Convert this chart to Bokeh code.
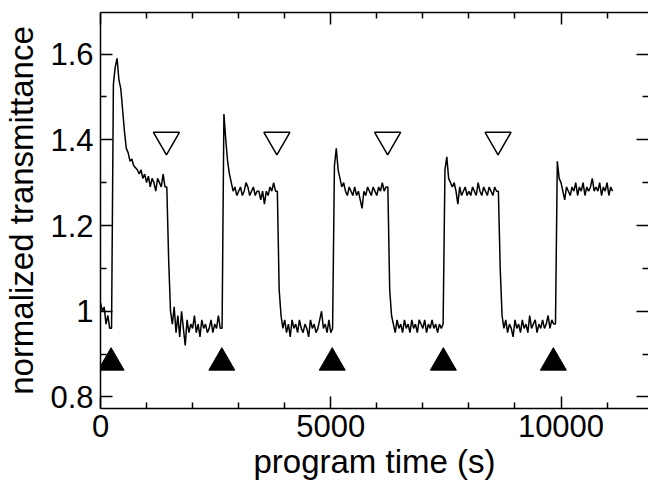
from bokeh.plotting import figure
from bokeh.models import Range1d, LinearAxis, FixedTicker, CustomJSTickFormatter, ColumnDataSource
from bokeh.embed import file_html
from bokeh.resources import INLINE

# ---- data ----
sample_step_s = 40  # one reading every 40 s of program time
transmittance = [
    1.02, 1.00, 1.01, 0.97, 0.99, 0.96, 0.96, 1.53, 1.57, 1.59,
    1.54, 1.52, 1.47, 1.42, 1.38, 1.37, 1.35, 1.355, 1.34, 1.335,
    1.33, 1.32, 1.33, 1.31, 1.32, 1.30, 1.315, 1.29, 1.31, 1.30,
    1.28, 1.31, 1.30, 1.29, 1.32, 1.29, 1.29, 1.12, 1.00, 0.97,
    1.01, 0.95, 0.99, 0.94, 1.00, 0.96, 0.92, 0.98, 0.95, 0.97,
    0.96, 0.99, 0.95, 0.97, 0.94, 0.98, 0.96, 0.97, 0.95, 0.96,
    0.98, 0.95, 0.97, 0.96, 0.99, 0.96, 0.96, 1.46, 1.40, 1.35,
    1.32, 1.30, 1.28, 1.29, 1.27, 1.28, 1.29, 1.27, 1.28, 1.30,
    1.29, 1.27, 1.28, 1.29, 1.27, 1.28, 1.28, 1.26, 1.28, 1.25,
    1.28, 1.27, 1.29, 1.28, 1.30, 1.28, 1.28, 1.05, 0.99, 0.96,
    0.98, 0.95, 0.97, 0.94, 0.98, 0.96, 0.97, 0.95, 0.98, 0.96,
    0.95, 0.97, 0.96, 0.94, 0.98, 0.96, 0.97, 0.95, 0.96, 0.98,
    1.00, 0.96, 0.97, 0.95, 0.98, 0.95, 0.96, 1.34, 1.38, 1.33,
    1.31, 1.29, 1.30, 1.28, 1.27, 1.29, 1.28, 1.27, 1.29, 1.27,
    1.28, 1.26, 1.24, 1.28, 1.27, 1.29, 1.28, 1.27, 1.29, 1.28,
    1.27, 1.29, 1.28, 1.30, 1.28, 1.29, 1.29, 1.05, 0.99, 0.97,
    0.95, 0.98, 0.96, 0.97, 0.95, 0.98, 0.96, 0.97, 0.95, 0.98,
    0.96, 0.97, 0.95, 0.98, 0.97, 0.96, 0.98, 0.95, 0.97, 0.96,
    0.98, 0.96, 0.97, 0.95, 0.97, 0.96, 0.97, 1.33, 1.36, 1.31,
    1.30, 1.29, 1.30, 1.28, 1.25, 1.29, 1.27, 1.28, 1.29, 1.27,
    1.28, 1.27, 1.29, 1.28, 1.27, 1.30, 1.28, 1.27, 1.29, 1.28,
    1.27, 1.29, 1.28, 1.27, 1.29, 1.28, 1.28, 1.10, 0.99, 0.96,
    0.98, 0.95, 0.97, 0.96, 0.94, 0.98, 0.96, 0.97, 0.95, 0.98,
    0.96, 0.97, 0.95, 0.99, 0.96, 0.97, 0.98, 0.95, 0.97, 0.96,
    0.98, 0.96, 0.97, 0.99, 0.96, 0.98, 0.97, 0.97, 1.35, 1.31,
    1.30, 1.28, 1.26, 1.29, 1.28, 1.27, 1.29, 1.28, 1.30, 1.27,
    1.29, 1.28, 1.30, 1.27, 1.29, 1.28, 1.29, 1.31, 1.28, 1.29,
    1.28, 1.30, 1.27, 1.29, 1.28, 1.30, 1.27, 1.29, 1.28,
]
program_time = [i * sample_step_s for i in range(len(transmittance))]

# filled (up) triangles and open (down) triangles
on_times = [230, 2635, 5032, 7445, 9834]
on_level = [0.88, 0.88, 0.88, 0.88, 0.88]
off_times = [1432, 3830, 6235, 8633]
off_level = [1.40, 1.40, 1.40, 1.40]

x_major = [0, 5000, 10000]
x_minor = [1000, 2000, 3000, 4000, 6000, 7000, 8000, 9000, 11000]
y_major = [0.8, 1.0, 1.2, 1.4, 1.6]
y_minor = [0.9, 1.1, 1.3, 1.5]
x_title = "program time (s)"
y_title = "normalized transmittance"

FONT = "Liberation Sans"

p = figure(width=648, height=483,
           x_range=Range1d(0, 11900), y_range=Range1d(0.773, 1.697),
           output_backend="svg", toolbar_location=None,
           min_border_left=97, min_border_right=0, min_border_top=12, min_border_bottom=75,
           x_axis_label=x_title, y_axis_label=y_title)
p.outline_line_color = None
p.grid.visible = False
p.background_fill_color = "white"
p.border_fill_color = "white"

src = ColumnDataSource(dict(t=program_time, y=transmittance))
p.line("t", "y", source=src, line_color="black", line_width=1.5)
p.scatter(on_times, on_level, marker="triangle", size=26,
          fill_color="black", line_color="black", line_width=1)
p.scatter(off_times, off_level, marker="inverted_triangle", size=26,
          fill_color="white", line_color="black", line_width=1.5)

yfmt = CustomJSTickFormatter(code="return tick.toFixed(1).replace(/\\.0$/, '');")

def style(ax, labels=True):
    ax.axis_line_color = "black"
    ax.axis_line_width = 1.5
    ax.major_tick_line_color = "black"
    ax.minor_tick_line_color = "black"
    ax.major_tick_line_width = 1.5
    ax.minor_tick_line_width = 1.5
    ax.major_tick_in = 12
    ax.major_tick_out = 0
    ax.minor_tick_in = 6
    ax.minor_tick_out = 0
    ax.major_label_text_font = FONT
    ax.axis_label_text_font = FONT
    ax.axis_label_text_font_style = "normal"
    ax.axis_label_text_color = "black"
    ax.axis_label_text_font_size = "33px"
    if labels:
        ax.major_label_text_font_size = "31px"
        ax.major_label_text_color = "black"
    else:
        ax.major_label_text_color = None
        ax.major_label_text_font_size = "0px"
        ax.major_label_standoff = 0

xb = p.xaxis[0]
style(xb)
xb.ticker = FixedTicker(ticks=x_major, minor_ticks=x_minor)
xb.major_label_standoff = 6
xb.axis_label_standoff = 3

yl = p.yaxis[0]
style(yl)
yl.ticker = FixedTicker(ticks=y_major, minor_ticks=y_minor)
yl.formatter = yfmt
yl.major_label_standoff = 7
yl.axis_label_standoff = 7

xt = LinearAxis(ticker=FixedTicker(ticks=x_major, minor_ticks=x_minor))
style(xt, labels=False)
p.add_layout(xt, "above")

yr = LinearAxis(ticker=FixedTicker(ticks=y_major, minor_ticks=y_minor))
style(yr, labels=False)
yr.axis_line_color = None
p.add_layout(yr, "right")

open("out.html", "w").write(file_html(p, INLINE))
